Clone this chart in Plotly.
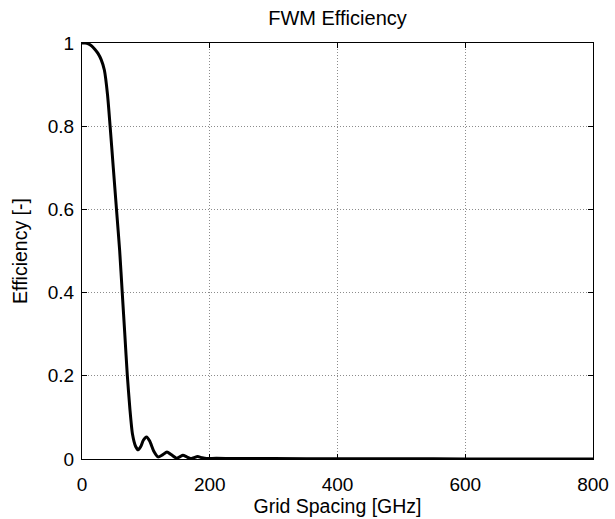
import plotly.graph_objects as go

# Grid spacing [GHz]
grid_spacing = [0, 5, 10, 15, 20, 25, 30, 35, 40, 44, 49, 54, 59, 63, 67, 71, 75, 79, 84, 88,
                92, 96, 101, 106, 112, 119, 126, 133, 140, 148, 153, 158, 164, 170, 175, 181,
                188, 195, 210, 250, 300, 400, 500, 600, 700, 800]
# FWM efficiency [-]
efficiency = [1.0, 1.0, 0.998, 0.993, 0.985, 0.975, 0.96, 0.935, 0.875, 0.80, 0.70, 0.60, 0.50,
              0.40, 0.30, 0.20, 0.12, 0.06, 0.03, 0.022, 0.03, 0.045, 0.053, 0.043, 0.02, 0.005,
              0.01, 0.017, 0.01, 0.002, 0.005, 0.009, 0.005, 0.001, 0.003, 0.006, 0.003, 0.001,
              0.002, 0.001, 0.001, 0.0005, 0.0005, 0.0003, 0.0003, 0.0002]

x_ticks = [0, 200, 400, 600, 800]
y_ticks = [0, 0.2, 0.4, 0.6, 0.8, 1]
y_tick_text = ["0", "0.2", "0.4", "0.6", "0.8", "1"]

FONT = "Liberation Sans, Arial, sans-serif"

fig = go.Figure()
fig.add_trace(go.Scatter(x=grid_spacing, y=efficiency, mode="lines",
                         line=dict(color="black", width=3, shape="spline", smoothing=0.6),
                         showlegend=False))

axis_common = dict(
    showline=True, linecolor="black", linewidth=1, mirror="allticks",
    ticks="inside", ticklen=5, tickcolor="black", tickwidth=1,
    showgrid=True, gridcolor="#8c8c8c", griddash="1px,2px", gridwidth=1,
    zeroline=False, automargin=False,
    tickfont=dict(family=FONT, size=19, color="black"),
)

fig.update_layout(
    width=615, height=519,
    margin=dict(l=82, r=22, t=43, b=60),
    paper_bgcolor="white", plot_bgcolor="white",
    title=dict(text="FWM Efficiency", x=0.5, xref="paper", xanchor="center",
               y=1 - 18 / 519, yref="container", yanchor="middle",
               font=dict(family=FONT, size=20, color="black")),
    xaxis=dict(range=[0, 800], tickvals=x_ticks, ticklabelstandoff=8,
               title=dict(text="Grid Spacing [GHz]", standoff=4,
                          font=dict(family=FONT, size=19.5, color="black")),
               **axis_common),
    yaxis=dict(range=[0, 1], tickvals=y_ticks, ticktext=y_tick_text, ticklabelstandoff=3,
               title=dict(text="Efficiency [-]", standoff=14,
                          font=dict(family=FONT, size=19.5, color="black")),
               **axis_common),
)

fig.write_html("out.html")
